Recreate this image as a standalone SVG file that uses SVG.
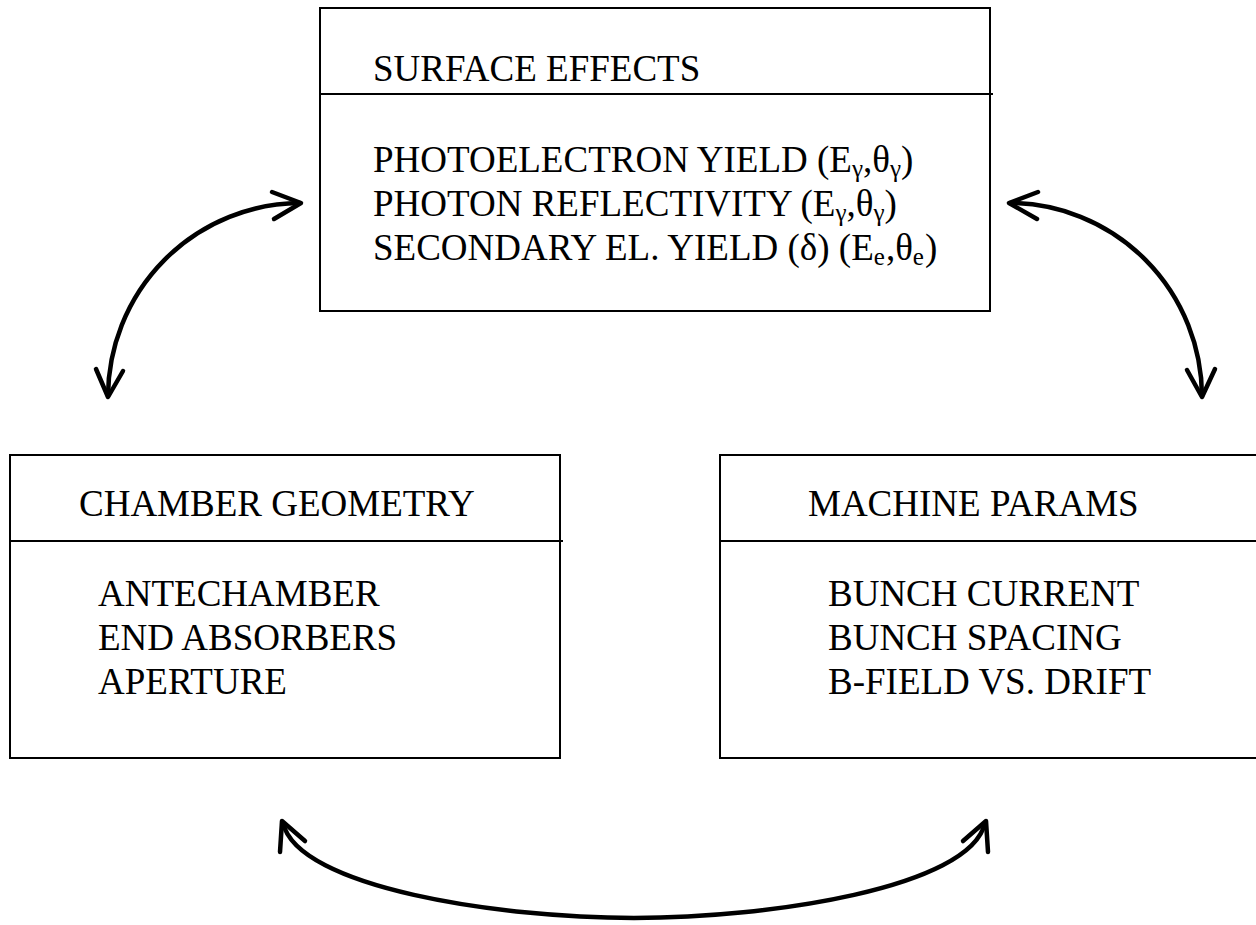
<svg xmlns="http://www.w3.org/2000/svg" width="1256" height="925" viewBox="0 0 1256 925">
<style>
.box{fill:none;stroke:#000;stroke-width:2}
.div{stroke:#000;stroke-width:2}
.t{font-family:"Liberation Serif","Times New Roman",serif;font-size:37px;fill:#000}
.sub{font-size:25px}
.arc{fill:none;stroke:#000;stroke-width:4.5;stroke-linecap:round}
.head{fill:none;stroke:#000;stroke-width:4.5;stroke-linecap:round;stroke-linejoin:round}
</style>
<rect width="1256" height="925" fill="#fff"/>
<g id="surface-effects">
<rect class="box" x="320" y="8" width="670" height="303"/>
<line class="div" x1="320" y1="94" x2="993" y2="94"/>
<text class="t" x="373" y="81">SURFACE EFFECTS</text>
<text class="t" x="373" y="172">PHOTOELECTRON YIELD (E<tspan class="sub" dy="5">γ</tspan><tspan dy="-5">,θ</tspan><tspan class="sub" dy="5">γ</tspan><tspan dy="-5">)</tspan></text>
<text class="t" x="373" y="216">PHOTON REFLECTIVITY (E<tspan class="sub" dy="5">γ</tspan><tspan dy="-5">,θ</tspan><tspan class="sub" dy="5">γ</tspan><tspan dy="-5">)</tspan></text>
<text class="t" x="373" y="260">SECONDARY EL. YIELD (δ) (E<tspan class="sub" dy="5">e</tspan><tspan dy="-5" dx="1">,θ</tspan><tspan class="sub" dy="5">e</tspan><tspan dy="-5" dx="1">)</tspan></text>
</g>
<g id="chamber-geometry">
<rect class="box" x="10" y="455" width="550" height="303"/>
<line class="div" x1="10" y1="541" x2="563" y2="541"/>
<text class="t" x="79" y="516">CHAMBER GEOMETRY</text>
<text class="t" x="98" y="606">ANTECHAMBER</text>
<text class="t" x="98" y="650">END ABSORBERS</text>
<text class="t" x="98" y="694">APERTURE</text>
</g>
<g id="machine-params">
<rect class="box" x="720" y="455" width="545" height="303"/>
<line class="div" x1="720" y1="541" x2="1262" y2="541"/>
<text class="t" x="808" y="516">MACHINE PARAMS</text>
<text class="t" x="828" y="606">BUNCH CURRENT</text>
<text class="t" x="828" y="650">BUNCH SPACING</text>
<text class="t" x="828" y="694">B-FIELD VS. DRIFT</text>
</g>
<g id="connectors">
<path class="arc" d="M108,396 A193,194 0 0 1 300,203"/>
<polyline class="head" points="272,192 301,203 274,219"/>
<polyline class="head" points="96,369 108,397 123,371"/>
<path class="arc" d="M1010,203 A193,194 0 0 1 1202,396"/>
<polyline class="head" points="1038,192 1009,203 1037,219"/>
<polyline class="head" points="1187,370 1202,397 1215,369"/>
<path class="arc" d="M283,823 C298,888 500,918 634,918 C768,918 970,888 985,823"/>
<polyline class="head" points="280,852 282,821 305,841"/>
<polyline class="head" points="988,852 986,821 963,841"/>
</g>
</svg>
